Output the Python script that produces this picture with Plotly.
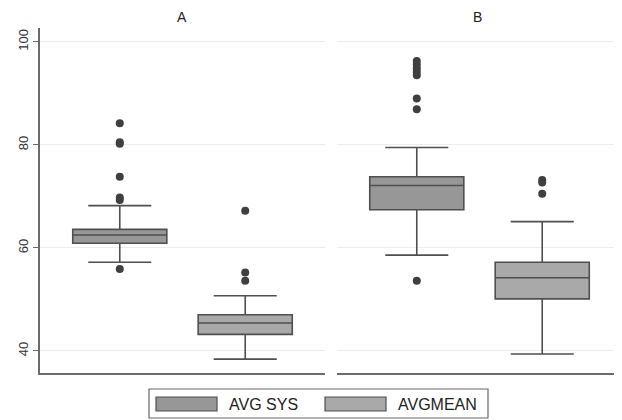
import plotly.graph_objects as go

# ---- data ----
groups = ["A", "B"]
series_names = ["AVG SYS", "AVGMEAN"]

sys_q1 = [60.9, 67.4]
sys_median = [62.5, 72.1]
sys_q3 = [63.6, 73.8]
sys_lower = [57.2, 58.6]
sys_upper = [68.2, 79.5]
sys_outliers_A = [84.2, 80.5, 80.2, 73.8, 69.8, 69.3, 55.9]
sys_outliers_B = [96.3, 95.6, 94.9, 94.2, 93.5, 89.0, 86.9, 53.6]

mean_q1 = [43.2, 50.1]
mean_median = [45.4, 54.2]
mean_q3 = [47.0, 57.2]
mean_lower = [38.4, 39.4]
mean_upper = [50.7, 65.1]
mean_outliers_A = [67.2, 55.2, 53.6]
mean_outliers_B = [73.2, 72.7, 70.5]

y_ticks = [40, 60, 80, 100]

# ---- styling ----
OFF = 8  # page body margin in the browser
W, H = 622 - OFF, 420 - OFF
sys_fill = "#979797"
mean_fill = "#a9a9a9"
edge = "#4f4f4f"
dot = "#3f3f3f"
axis_col = "#6a6a6a"
grid_col = "#ececec"
font_fam = "Liberation Sans, Arial, sans-serif"

def px_x(p):
    return (p - OFF) / W

def px_y(p):
    return 1 - (p - OFF) / H

fig = go.Figure()

outliers = {
    (0, 0): sys_outliers_A, (0, 1): sys_outliers_B,
    (1, 0): mean_outliers_A, (1, 1): mean_outliers_B,
}
stats = [
    (sys_q1, sys_median, sys_q3, sys_lower, sys_upper, sys_fill),
    (mean_q1, mean_median, mean_q3, mean_lower, mean_upper, mean_fill),
]

for gi, g in enumerate(groups):
    xa = "x" if gi == 0 else "x2"
    ya = "y" if gi == 0 else "y2"
    for si, (q1, med, q3, lo, hi, fill) in enumerate(stats):
        fig.add_trace(go.Box(
            x=[si], q1=[q1[gi]], median=[med[gi]], q3=[q3[gi]],
            lowerfence=[lo[gi]], upperfence=[hi[gi]],
            width=0.75, whiskerwidth=0.67, boxpoints=False,
            fillcolor=fill, line=dict(color=edge, width=1.6),
            name=series_names[si], showlegend=False,
            xaxis=xa, yaxis=ya,
        ))
        pts = outliers[(si, gi)]
        fig.add_trace(go.Scatter(
            x=[si] * len(pts), y=pts, mode="markers",
            marker=dict(color=dot, size=8, line=dict(width=0)),
            showlegend=False, hoverinfo="y", xaxis=xa, yaxis=ya,
        ))

xr = [-0.636, 1.636]
yr = [35.7, 102.7]
ydom = [px_y(373), px_y(28)]

common_x = dict(range=xr, showline=True, linecolor=axis_col, linewidth=1.5,
                showgrid=False, zeroline=False, showticklabels=False, ticks="",
                fixedrange=True)
fig.update_layout(
    width=W, height=H,
    margin=dict(l=0, r=0, t=0, b=0, autoexpand=False),
    paper_bgcolor="white", plot_bgcolor="white",
    font=dict(family=font_fam, color="#222222", size=12),
    showlegend=False,
    xaxis=dict(domain=[px_x(40), px_x(325)], anchor="y", **common_x),
    xaxis2=dict(domain=[px_x(337), 1.0], anchor="y2", **common_x),
    yaxis=dict(domain=ydom, range=yr, anchor="x", tickvals=y_ticks,
               ticks="outside", ticklen=5, tickwidth=1.2, tickcolor=axis_col,
               tickangle=-90, tickfont=dict(size=13, color="#333333"),
               showline=True, linecolor=axis_col, linewidth=1.5,
               showgrid=True, gridcolor=grid_col, gridwidth=1.2,
               zeroline=False, automargin=False),
    yaxis2=dict(domain=ydom, range=yr, anchor="x2", tickvals=y_ticks,
                showticklabels=False, ticks="", showline=False,
                showgrid=True, gridcolor=grid_col, gridwidth=1.2,
                zeroline=False, automargin=False),
)

# panel titles
for g, cx in zip(groups, [182, 477]):
    fig.add_annotation(text=g, x=px_x(cx), y=px_y(17), xref="paper", yref="paper",
                       showarrow=False, xanchor="center", yanchor="middle",
                       font=dict(size=14, color="#222222"))

# legend drawn as a framed key below the panels
fig.add_shape(type="rect", xref="paper", yref="paper",
              x0=px_x(149), x1=px_x(488), y0=px_y(418), y1=px_y(389),
              line=dict(color="#666666", width=1.2), fillcolor="white")
for name, fill, sx0, tx in zip(series_names, [sys_fill, mean_fill], [156, 325], [227, 396]):
    fig.add_shape(type="rect", xref="paper", yref="paper",
                  x0=px_x(sx0), x1=px_x(sx0 + 61), y0=px_y(411), y1=px_y(397),
                  line=dict(color=edge, width=1.2), fillcolor=fill)
    fig.add_annotation(text=name, x=px_x(tx), y=px_y(404), xref="paper", yref="paper",
                       showarrow=False, xanchor="left", yanchor="middle",
                       font=dict(size=16, color="#222222"))

fig.write_html("out.html")
